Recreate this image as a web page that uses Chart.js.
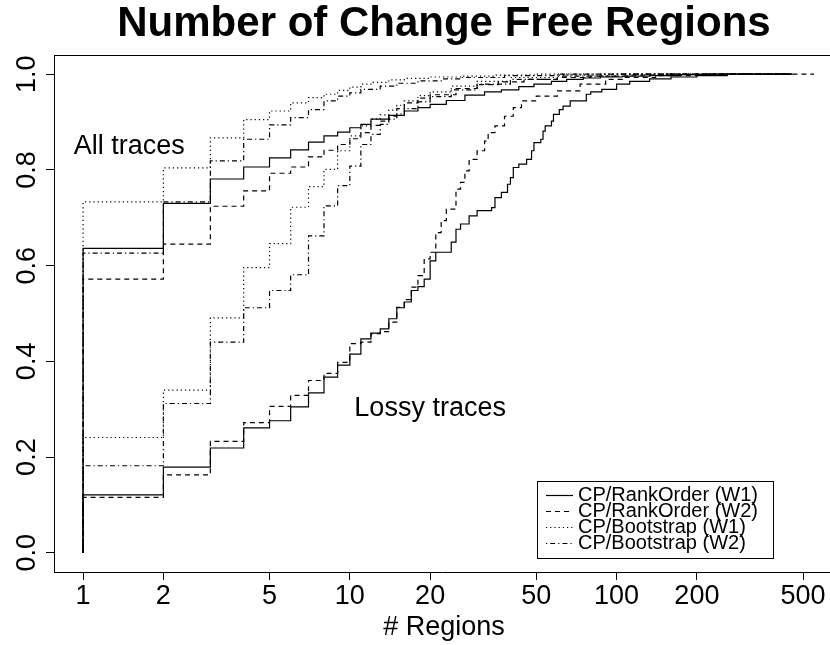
<!DOCTYPE html>
<html>
<head>
<meta charset="utf-8">
<script src="https://cdn.jsdelivr.net/npm/chart.js@4.4.1/dist/chart.umd.min.js"></script>
<style>
  html, body { margin: 0; padding: 0; background: #fff; overflow: hidden; }
  #wrap { width: 830px; height: 645px; }
</style>
</head>
<body>
<div id="wrap"><canvas id="cfrChart"></canvas></div>
<script>
// cumulative fraction of traces vs. number of change free regions, [regions, fraction]
const allRankW1 = [[1,0.636],[2,0.730],[3,0.781],[4,0.806],[5,0.825],[6,0.842],[7,0.858],[8,0.871],[9,0.879],[10,0.888],[11,0.895],[12,0.906],[14,0.914],[16,0.923],[18,0.930],[20,0.937],[23,0.945],[27,0.956],[32,0.963],[37,0.967],[43,0.974],[49,0.979],[57,0.985],[65,0.989],[75,0.992],[87,0.994],[105,0.996],[133,0.997],[170,0.999],[230,1],[455,1]];
const allRankW2 = [[1,0.572],[2,0.645],[3,0.724],[4,0.756],[5,0.793],[6,0.806],[7,0.827],[8,0.841],[9,0.853],[10,0.865],[11,0.878],[12,0.893],[13,0.902],[14,0.912],[15,0.928],[16,0.940],[18,0.950],[20,0.957],[25,0.970],[30,0.978],[36,0.984],[45,0.989],[60,0.993],[80,0.996],[110,0.998],[150,1],[550,1]];
const allBootW1 = [[1,0.733],[2,0.804],[3,0.867],[4,0.905],[5,0.923],[6,0.940],[7,0.951],[8,0.958],[9,0.966],[10,0.973],[11,0.979],[12,0.983],[14,0.988],[16,0.991],[20,0.994],[26,0.996],[35,0.998],[50,1],[455,1]];
const allBootW2 = [[1,0.626],[2,0.733],[3,0.819],[4,0.864],[5,0.894],[6,0.909],[7,0.926],[8,0.944],[9,0.954],[10,0.961],[11,0.968],[13,0.975],[15,0.981],[18,0.986],[22,0.990],[26,0.993],[38,0.997],[60,1],[455,1]];

const lossRankW1 = [[1,0.121],[2,0.179],[3,0.219],[4,0.261],[5,0.276],[6,0.305],[7,0.334],[8,0.367],[9,0.392],[10,0.415],[11,0.447],[12,0.459],[13,0.468],[14,0.489],[15,0.512],[16,0.524],[17,0.548],[18,0.556],[19,0.572],[20,0.610],[21,0.628],[24,0.649],[25,0.676],[26,0.687],[28,0.704],[30,0.715],[34,0.721],[35,0.742],[37,0.753],[39,0.770],[40,0.784],[41,0.805],[43,0.812],[46,0.822],[48,0.840],[49,0.857],[52,0.864],[53,0.881],[54,0.892],[57,0.902],[58,0.916],[61,0.926],[63,0.933],[67,0.944],[77,0.958],[80,0.963],[88,0.968],[100,0.979],[112,0.985],[133,0.990],[160,0.994],[200,0.997],[260,1],[455,1]];
const lossRankW2 = [[1,0.116],[2,0.163],[3,0.233],[4,0.272],[5,0.306],[6,0.329],[7,0.360],[8,0.375],[9,0.398],[10,0.437],[11,0.440],[12,0.458],[13,0.462],[14,0.482],[15,0.513],[16,0.529],[17,0.555],[18,0.579],[19,0.614],[20,0.628],[21,0.669],[22,0.694],[23,0.718],[25,0.760],[26,0.774],[27,0.798],[28,0.822],[30,0.840],[32,0.860],[33,0.878],[35,0.892],[38,0.912],[41,0.930],[44,0.944],[50,0.954],[60,0.965],[73,0.979],[91,0.989],[105,0.993],[140,0.997],[200,1],[455,1]];
const lossBootW1 = [[1,0.241],[2,0.340],[3,0.491],[4,0.596],[5,0.646],[6,0.722],[7,0.765],[8,0.801],[9,0.840],[10,0.871],[11,0.892],[12,0.906],[13,0.915],[14,0.925],[15,0.935],[16,0.944],[18,0.955],[20,0.963],[24,0.975],[30,0.985],[40,0.993],[60,0.998],[90,1],[455,1]];
const lossBootW2 = [[1,0.182],[2,0.312],[3,0.440],[4,0.512],[5,0.548],[6,0.581],[7,0.662],[8,0.725],[9,0.767],[10,0.808],[11,0.853],[12,0.874],[13,0.895],[14,0.906],[15,0.917],[16,0.928],[18,0.942],[20,0.953],[24,0.967],[30,0.979],[40,0.989],[60,0.996],[100,1],[455,1]];

const xTicks = [1, 2, 5, 10, 20, 50, 100, 200, 500];
const yTicks = [0, 0.2, 0.4, 0.6, 0.8, 1.0];
const methodNames = ['CP/RankOrder (W1)', 'CP/RankOrder (W2)', 'CP/Bootstrap (W1)', 'CP/Bootstrap (W2)'];

const FONT = '"Liberation Sans", Arial, Helvetica, sans-serif';

// line type per method: solid, dashed, dotted, dot-dash
const lineDash = [[], [5, 4], [1.2, 3], [1.2, 3, 5, 3]];
const lineWidth = [1.2, 1.2, 1.2, 1.2];

// every curve starts at 0 on the first region, then steps up
function ecdfPoints(pairs) {
    return [{ x: 1, y: 0 }].concat(pairs.map(p => ({ x: p[0], y: p[1] })));
}

function makeSet(label, pairs, style) {
    return {
        label: label,
        data: ecdfPoints(pairs),
        borderColor: '#000',
        borderWidth: lineWidth[style],
        borderDash: lineDash[style],
        stepped: 'before',
        pointRadius: 0,
        fill: false,
        tension: 0
    };
}

const datasets = [
    makeSet(methodNames[0], allRankW1, 0),
    makeSet(methodNames[1], allRankW2, 1),
    makeSet(methodNames[2], allBootW1, 2),
    makeSet(methodNames[3], allBootW2, 3),
    makeSet(methodNames[0], lossRankW1, 0),
    makeSet(methodNames[1], lossRankW2, 1),
    makeSet(methodNames[2], lossBootW1, 2),
    makeSet(methodNames[3], lossBootW2, 3)
];

// title, rotated y labels, group labels, legend and top edge of the frame
const decorations = {
    id: 'decorations',
    afterDraw(chart) {
        const { ctx, chartArea: area } = chart;
        const xs = chart.scales.x;
        const ys = chart.scales.y;
        ctx.save();

        ctx.strokeStyle = '#000';
        ctx.lineWidth = 1;
        ctx.setLineDash([]);
        ctx.beginPath();
        ctx.moveTo(area.left, Math.round(area.top) + 0.5);
        ctx.lineTo(area.right, Math.round(area.top) + 0.5);
        ctx.stroke();

        const centreX = (area.left + area.right) / 2 + 2;
        ctx.fillStyle = '#000';
        ctx.textAlign = 'center';
        ctx.textBaseline = 'middle';
        ctx.font = 'bold 42px ' + FONT;
        ctx.fillText('Number of Change Free Regions', centreX, 24);

        ctx.font = '27px ' + FONT;
        ctx.fillText('# Regions', centreX, chart.height - 17);

        yTicks.forEach(v => {
            ctx.save();
            ctx.translate(area.left - 19, ys.getPixelForValue(v));
            ctx.rotate(-Math.PI / 2);
            ctx.textBaseline = 'alphabetic';
            ctx.fillText(v.toFixed(1), 0, 0);
            ctx.restore();
        });

        ctx.fillText('All traces', xs.getPixelForValue(1.49), ys.getPixelForValue(0.848));
        ctx.fillText('Lossy traces', xs.getPixelForValue(20), ys.getPixelForValue(0.302));

        // legend box in the lower right corner
        const boxRight = area.right - 57;
        const boxLeft = boxRight - 236;
        const boxBottom = area.bottom - 14;
        const boxTop = boxBottom - 77;
        ctx.lineWidth = 1;
        ctx.strokeRect(Math.round(boxLeft) + 0.5, Math.round(boxTop) + 0.5, boxRight - boxLeft, boxBottom - boxTop);
        ctx.font = '20px ' + FONT;
        ctx.textAlign = 'left';
        methodNames.forEach((name, i) => {
            const rowY = boxTop + 14 + i * 16;
            ctx.setLineDash(lineDash[i]);
            ctx.lineWidth = lineWidth[i];
            ctx.beginPath();
            ctx.moveTo(boxLeft + 9, Math.round(rowY) + 0.5);
            ctx.lineTo(boxLeft + 36, Math.round(rowY) + 0.5);
            ctx.stroke();
            ctx.fillText(name, boxLeft + 41, rowY);
        });
        ctx.restore();
    }
};

const ctx = document.getElementById('cfrChart').getContext('2d');
new Chart(ctx, {
    type: 'line',
    data: { datasets: datasets },
    options: {
        responsive: true,
        maintainAspectRatio: false,
        animation: false,
        layout: { padding: { top: 55, right: 0, bottom: 0, left: 0 } },
        plugins: {
            legend: { display: false },
            tooltip: { enabled: false },
            title: { display: false }
        },
        scales: {
            x: {
                type: 'logarithmic',
                min: 0.778,
                max: 631,
                afterBuildTicks: (scale) => { scale.ticks = xTicks.map(v => ({ value: v })); },
                afterFit: (scale) => { scale.height = 73; },
                ticks: {
                    autoSkip: false,
                    maxRotation: 0,
                    padding: 0,
                    color: '#000',
                    font: { family: FONT, size: 27 },
                    callback: (v) => String(v)
                },
                grid: { drawOnChartArea: false, drawTicks: true, tickLength: 8, color: '#000' },
                border: { display: true, color: '#000', width: 1 }
            },
            y: {
                type: 'linear',
                min: -0.04,
                max: 1.04,
                afterBuildTicks: (scale) => { scale.ticks = yTicks.map(v => ({ value: v })); },
                afterFit: (scale) => { scale.width = 54; },
                ticks: { display: false },
                grid: { drawOnChartArea: false, drawTicks: true, tickLength: 8, color: '#000' },
                border: { display: true, color: '#000', width: 1 }
            }
        }
    },
    plugins: [decorations]
});
</script>
</body>
</html>
